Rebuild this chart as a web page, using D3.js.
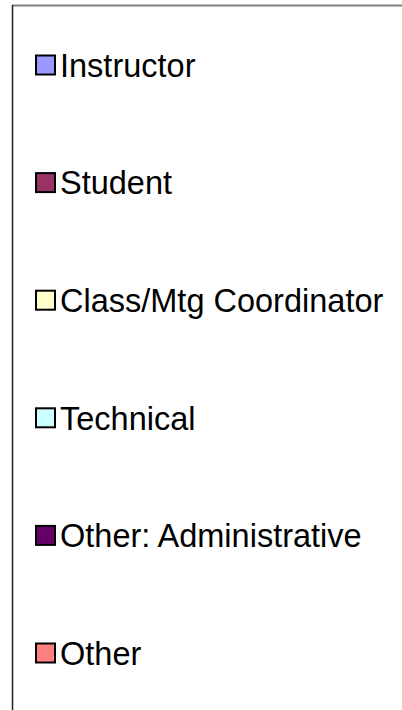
<!DOCTYPE html>
<html>
<head>
<meta charset="utf-8">
<script src="https://cdn.jsdelivr.net/npm/d3@7"></script>
<style>
  html, body { margin: 0; padding: 0; background: #fff; overflow: hidden; }
</style>
</head>
<body>
<div id="chart"></div>
<script>
// legend entries and their swatch colours
var categories = ["Instructor", "Student", "Class/Mtg Coordinator", "Technical", "Other: Administrative", "Other"]
var colors = ["#9999FF", "#993366", "#FFFFCC", "#CCFFFF", "#660066", "#FF8080"]

var width = 402
var height = 710

var svg = d3.select("#chart")
    .append("svg")
    .attr("width", width)
    .attr("height", height)

// frame of the chart area (only top and left edges are visible)
svg.append("line")
    .attr("x1", 12).attr("x2", width + 10)
    .attr("y1", 5.5).attr("y2", 5.5)
    .attr("stroke", "#808080")
    .attr("stroke-width", 2)
svg.append("line")
    .attr("x1", 12.5).attr("x2", 12.5)
    .attr("y1", 5).attr("y2", height + 10)
    .attr("stroke", "#222")
    .attr("stroke-width", 1.5)

// vertical position of each legend row
var y = d3.scalePoint()
    .domain(categories)
    .range([65, 653])

var color = d3.scaleOrdinal()
    .domain(categories)
    .range(colors)

var item = svg.selectAll("g.item")
    .data(categories)
    .enter()
    .append("g")
    .attr("class", "item")
    .attr("transform", function (d) { return "translate(0," + y(d) + ")" })

item.append("rect")
    .attr("x", 36)
    .attr("y", -9.5)
    .attr("width", 19)
    .attr("height", 19)
    .attr("fill", function (d) { return color(d) })
    .attr("stroke", "#000")
    .attr("stroke-width", 2)

item.append("text")
    .attr("x", 60)
    .attr("y", 0)
    .attr("dy", "0.36em")
    .style("font-family", "'Liberation Sans', Arial, sans-serif")
    .style("font-size", "32.5px")
    .attr("fill", "#000")
    .text(function (d) { return d })
</script>
</body>
</html>
